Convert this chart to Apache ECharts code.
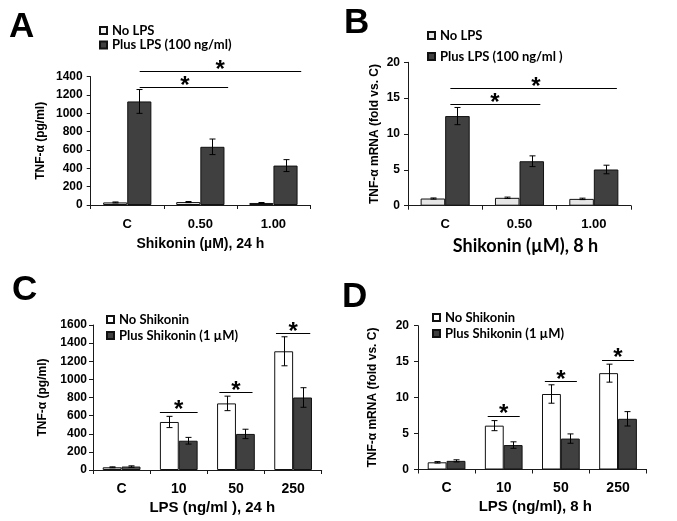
<!DOCTYPE html>
<html><head><meta charset="utf-8">
<script src="https://cdn.jsdelivr.net/npm/echarts@6/dist/echarts.min.js"></script>
<style>html,body{margin:0;padding:0;background:#fff}#c{width:677px;height:521px}</style>
</head><body><div id="c"></div>
<script>
// ---------- Panel A ----------
const catsA = ['C', '0.50', '1.00'];
const aNoLPS = [28, 32, 22];
const aNoLPSErr = [5, 6, 5];
const aPlusLPS = [1130, 635, 430];
const aPlusLPSErr = [130, 85, 65];
const aSig = [[0.17, 2.38, 1462, 1.27], [0.17, 1.38, 1288, 0.79]]; // x1, x2, y, starX
// ---------- Panel B ----------
const catsB = ['C', '0.50', '1.00'];
const bNoLPS = [1.0, 1.1, 0.95];
const bNoLPSErr = [0.08, 0.1, 0.1];
const bPlusLPS = [12.5, 6.2, 5.05];
const bPlusLPSErr = [1.2, 0.75, 0.6];
const bSig = [[0.07, 2.31, 16.4, 1.22], [0.07, 1.28, 14.2, 0.67]];
// ---------- Panel C ----------
const catsC = ['C', '10', '50', '250'];
const cNoShik = [30, 530, 735, 1310];
const cNoShikErr = [5, 62, 80, 160];
const cPlusShik = [38, 323, 398, 800];
const cPlusShikErr = [8, 37, 52, 108];
const cSig = [[0.67, 1.33, 644, 1.0], [1.71, 2.29, 856, 2.0], [2.7, 3.3, 1507, 3.0]];
// ---------- Panel D ----------
const catsD = ['C', '10', '50', '250'];
const dNoShik = [1.0, 6.1, 10.5, 13.4];
const dNoShikErr = [0.1, 0.7, 1.28, 1.25];
const dPlusShik = [1.2, 3.4, 4.3, 7.05];
const dPlusShikErr = [0.15, 0.45, 0.65, 1.0];
const dSig = [[0.72, 1.28, 7.5, 1.0], [1.72, 2.28, 12.3, 2.0], [2.72, 3.28, 15.25, 3.0]];

const BARW = 0.33;
const AX = '#1a1a1a';
const TICKFONT = 'Liberation Sans';

function errRender(sign) {
  return function (params, api) {
    const i = api.value(0), v = api.value(1), e = api.value(2);
    const band = api.size([1, 0])[0];
    const dx = sign * band * BARW / 2;
    const top = api.coord([i, v + e]);
    const bot = api.coord([i, v - e]);
    const x = Math.round(top[0] + dx) + 0.5;
    const cap = 3;
    const st = { stroke: '#000', lineWidth: 1 };
    return { type: 'group', children: [
      { type: 'line', shape: { x1: x, y1: top[1], x2: x, y2: bot[1] }, style: st },
      { type: 'line', shape: { x1: x - cap, y1: top[1], x2: x + cap, y2: top[1] }, style: st },
      { type: 'line', shape: { x1: x - cap, y1: bot[1], x2: x + cap, y2: bot[1] }, style: st }
    ] };
  };
}
function sigRender(params, api) {
  const y = api.value(2);
  const p1 = api.coord([api.value(0), y]);
  const p2 = api.coord([api.value(1), y]);
  const ps = api.coord([api.value(3), y]);
  return { type: 'group', children: [
    { type: 'line', shape: { x1: p1[0], y1: Math.round(p1[1]) + 0.5, x2: p2[0], y2: Math.round(p2[1]) + 0.5 }, style: { stroke: '#000', lineWidth: 1 } },
    { type: 'text', x: ps[0], y: ps[1] - 13, style: { text: '*', fill: '#000', font: 'bold 24px "Liberation Sans"', align: 'center', verticalAlign: 'top' } }
  ] };
}

const grids = [
  { left: 90.7, top: 76.7, width: 219.3, height: 128.3 },
  { left: 408, top: 62.3, width: 223, height: 143.4 },
  { left: 93, top: 325, width: 228.7, height: 145 },
  { left: 418, top: 325.7, width: 228.6, height: 143.8 }
];
const cats = [catsA, catsB, catsC, catsD];
const yMax = [1400, 20, 1600, 20];
const yInt = [200, 5, 200, 5];
const yNames = ['TNF-\u03b1 (pg/ml)', 'TNF-\u03b1 mRNA (fold vs. C)', 'TNF-\u03b1 (pg/ml)', 'TNF-\u03b1 mRNA (fold vs. C)'];
const yNameGap = [44, 27, 44, 39];
const yLabelMargin = [8, 8, 6, 9];
const xNames = ['Shikonin (\u00b5M), 24 h', 'Shikonin (\u00b5M), 8 h', 'LPS (ng/ml ), 24 h', 'LPS (ng/ml), 8 h'];
const xNameFont = [
  { fontFamily: 'Liberation Sans', fontSize: 14, padding: [0, 0, 0, 0] },
  { fontFamily: 'Lato', fontSize: 18, padding: [0, 0, 0, 12] },
  { fontFamily: 'Liberation Sans', fontSize: 15, padding: [0, 0, 0, 10] },
  { fontFamily: 'Liberation Sans', fontSize: 15, padding: [0, 0, 0, 6] }
];
const xNameGap = [32, 31, 30, 30];
const catFont = [13, 13, 14, 14];
const catMargin = [13, 12, 12, 12];

const xAxes = [], yAxes = [];
for (let g = 0; g < 4; g++) {
  xAxes.push({
    type: 'category', gridIndex: g, data: cats[g],
    axisLine: { show: true, onZero: false, lineStyle: { color: AX, width: 1 } },
    axisTick: { show: true, length: 4, alignWithLabel: false, lineStyle: { color: AX } },
    axisLabel: { color: '#000', fontFamily: TICKFONT, fontWeight: 'bold', fontSize: catFont[g], margin: catMargin[g] },
    splitLine: { show: false },
    name: xNames[g], nameLocation: 'middle', nameGap: xNameGap[g],
    nameTextStyle: Object.assign({ color: '#000', fontWeight: 'bold' }, xNameFont[g])
  });
  yAxes.push({
    type: 'value', gridIndex: g, min: 0, max: yMax[g], interval: yInt[g],
    axisLine: { show: true, onZero: false, lineStyle: { color: AX, width: 1 } },
    axisTick: { show: true, length: 4, lineStyle: { color: AX } },
    axisLabel: { color: '#000', fontFamily: TICKFONT, fontWeight: 'bold', fontSize: 12, margin: yLabelMargin[g], formatter: v => String(v) },
    splitLine: { show: false },
    name: yNames[g], nameLocation: 'middle', nameGap: yNameGap[g], nameRotate: 90,
    nameTextStyle: { color: '#000', fontFamily: 'Liberation Sans', fontWeight: 'bold', fontSize: 12 }
  });
}
// hidden numeric x axes for annotation brackets (index 4..7)
for (let g = 0; g < 4; g++) {
  xAxes.push({ type: 'value', gridIndex: g, min: -0.5, max: cats[g].length - 0.5, show: false,
    axisLine: { show: false, onZero: false }, axisTick: { show: false }, axisLabel: { show: false }, splitLine: { show: false } });
}

const DARK = '#404040';
function barSeries(name, g, vals, color, firstColor) {
  return {
    type: 'bar', name: name, xAxisIndex: g, yAxisIndex: g,
    barWidth: (BARW * 100) + '%', barGap: '0%',
    data: vals.map((v, i) => (i === 0 && firstColor) ? { value: v, itemStyle: { color: firstColor } } : v),
    itemStyle: { color: color, borderColor: '#111', borderWidth: 1 },
    emphasis: { disabled: true }, z: 2
  };
}
function errSeries(g, vals, errs, sign) {
  return {
    type: 'custom', xAxisIndex: g, yAxisIndex: g, silent: true, z: 5,
    renderItem: errRender(sign),
    encode: { x: 0, y: [1] },
    data: vals.map((v, i) => [i, v, errs[i]])
  };
}
function sigSeries(g, sig) {
  return {
    type: 'custom', xAxisIndex: g + 4, yAxisIndex: g, silent: true, z: 6, clip: false,
    renderItem: sigRender,
    encode: { x: [0, 1, 3], y: 2 },
    data: sig
  };
}

const series = [
  barSeries('No LPS', 0, aNoLPS, '#f2f2f2'),
  barSeries('Plus LPS (100 ng/ml)', 0, aPlusLPS, DARK),
  errSeries(0, aNoLPS, aNoLPSErr, -1), errSeries(0, aPlusLPS, aPlusLPSErr, 1), sigSeries(0, aSig),

  barSeries('No LPS ', 1, bNoLPS, '#e6e6e6'),
  barSeries('Plus LPS (100 ng/ml )', 1, bPlusLPS, DARK),
  errSeries(1, bNoLPS, bNoLPSErr, -1), errSeries(1, bPlusLPS, bPlusLPSErr, 1), sigSeries(1, bSig),

  barSeries('No Shikonin', 2, cNoShik, '#ffffff', '#e2e2e2'),
  barSeries('Plus Shikonin (1 \u00b5M)', 2, cPlusShik, DARK, '#555555'),
  errSeries(2, cNoShik, cNoShikErr, -1), errSeries(2, cPlusShik, cPlusShikErr, 1), sigSeries(2, cSig),

  barSeries('No Shikonin ', 3, dNoShik, '#ffffff'),
  barSeries('Plus Shikonin (1 \u00b5M) ', 3, dPlusShik, DARK),
  errSeries(3, dNoShik, dNoShikErr, -1), errSeries(3, dPlusShik, dPlusShikErr, 1), sigSeries(3, dSig)
];

const legFont = { fontFamily: 'Lato', fontWeight: 'bold', fontSize: 13, color: '#000' };
function leg(names, left, top, gap) {
  return {
    data: names, left: left, top: top, orient: 'vertical', padding: 0,
    itemWidth: 7, itemHeight: 7, itemGap: gap, icon: 'rect', selectedMode: false,
    textStyle: legFont
  };
}

const letterStyle = { fontFamily: 'Liberation Sans', fontWeight: 'bold', fontSize: 35, color: '#000' };
const option = {
  animation: false,
  backgroundColor: '#fff',
  title: [
    { text: 'A', left: 9, top: 10, padding: 0, textStyle: letterStyle },
    { text: 'B', left: 344, top: 6, padding: 0, textStyle: letterStyle },
    { text: 'C', left: 12, top: 273, padding: 0, textStyle: letterStyle },
    { text: 'D', left: 342, top: 280, padding: 0, textStyle: letterStyle }
  ],
  legend: [
    leg(['No LPS', 'Plus LPS (100 ng/ml)'], 99, 24, 1.5),
    leg(['No LPS ', 'Plus LPS (100 ng/ml )'], 427, 29, 8),
    leg(['No Shikonin', 'Plus Shikonin (1 \u00b5M)'], 106, 313, 3),
    leg(['No Shikonin ', 'Plus Shikonin (1 \u00b5M) '], 432, 311, 3)
  ],
  grid: grids,
  xAxis: xAxes,
  yAxis: yAxes,
  series: series
};
const chart = echarts.init(document.getElementById('c'), null, { renderer: 'canvas' });
chart.setOption(option);
</script></body></html>
